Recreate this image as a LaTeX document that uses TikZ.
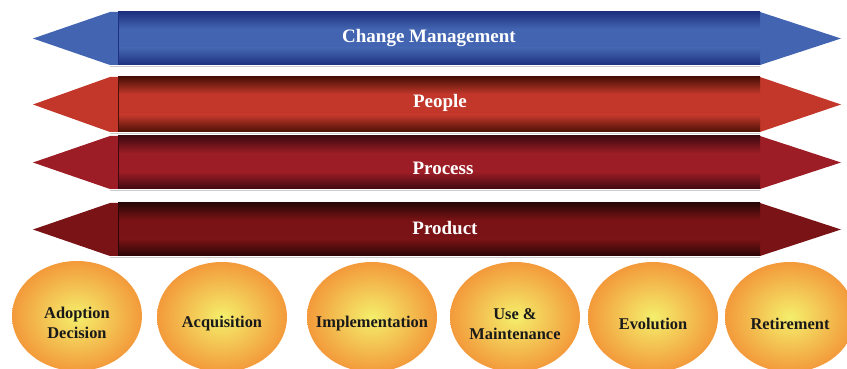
\documentclass[tikz,border=0pt]{standalone}
\usepackage{fontspec}
\setmainfont{Liberation Serif}
\usetikzlibrary{shapes.geometric}

\definecolor{cmdark}{HTML}{1E3180}
\definecolor{cmmid}{HTML}{4365B1}
\definecolor{ppdark}{HTML}{4A1006}
\definecolor{ppmid}{HTML}{C2372A}
\definecolor{prdark}{HTML}{3E0810}
\definecolor{prmid}{HTML}{9C1D25}
\definecolor{pddark}{HTML}{2A0606}
\definecolor{pdmid}{HTML}{7A1315}
\definecolor{phasein}{HTML}{F4EF6C}
\definecolor{phaseout}{HTML}{F39A3B}

\tikzset{
  barlabel/.style={text=white, font=\fontsize{9.5}{11}\selectfont\bfseries},
  phasetext/.style={align=center, text=black!90, yshift=-3.5pt,
    font=\fontsize{8.2}{10}\selectfont\bfseries},
  phase/.style={ellipse, minimum width=65pt, minimum height=55pt, inner sep=0pt,
    inner color=phasein, outer color=phaseout,
    label={[phasetext]center:#1}},
}

% crayon bar: top, bottom, dark colour, light colour, node name, label position, label
\newcommand{\crayon}[7]{%
  \fill[black!20] (110,{#2+1}) -- (760,{#2+1}) -- (760,{#2+2}) -- (110,{#2+2}) -- cycle;
  \fill[#4] (33,{(#1+#2)/2}) -- (110,#1) -- (118,#1) -- (118,#2) -- (110,#2) -- cycle;
  \fill[#4] (760,#1) -- (841,{(#1+#2)/2}) -- (760,#2) -- cycle;
  \fill[#4] (118,#1) rectangle (760,#2);
  \shade[top color=#3, bottom color=#4] (118,#1) rectangle (760,{#1+17});
  \shade[top color=#4, bottom color=#3] (118,{#2-17}) rectangle (760,#2);
  \draw[#3, very thin] (118,#1) -- (118,#2);
  \node[barlabel] (#5) at (#6) {#7};
}

\begin{document}
\begin{tikzpicture}[x=0.5pt, y=-0.5pt]
  \clip (0,0) rectangle (847,369);

  \crayon{12}{65}{cmdark}{cmmid}{change}{429,38}{Change Management}
  \crayon{77}{132}{ppdark}{ppmid}{people}{440,103}{People}
  \crayon{136}{189}{prdark}{prmid}{process}{443,168}{Process}
  \crayon{203}{256}{pddark}{pdmid}{product}{445,228}{Product}

  % life cycle phases
  \node[phase={Adoption\\Decision}] (adoption) at (77,316) {};
  \node[phase=Acquisition] (acquisition) at (222,317) {};
  \node[phase=Implementation] (implementation) at (372,317) {};
  \node[phase={Use \&\\Maintenance}] (use) at (515,317) {};
  \node[phase=Evolution] (evolution) at (653,317) {};
  \node[phase=Retirement] (retirement) at (790,317) {};
\end{tikzpicture}
\end{document}
